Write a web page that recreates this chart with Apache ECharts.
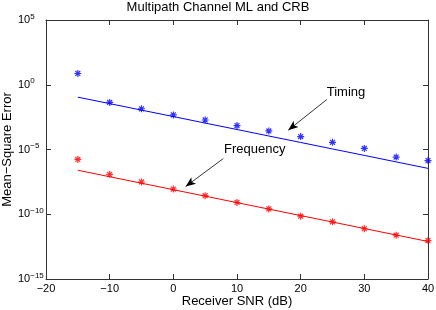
<!DOCTYPE html>
<html><head><meta charset="utf-8">
<script src="https://cdn.jsdelivr.net/npm/echarts@6/dist/echarts.min.js"></script>
<style>html,body{margin:0;padding:0;background:#fff}#c{width:436px;height:310px}</style>
</head><body><div id="c"></div>
<script>
var snr = [-15, -10, -5, 0, 5, 10, 15, 20, 25, 30, 35, 40];
var timingML = [7.4, 4.3e-2, 1.4e-2, 4.7e-3, 1.9e-3, 7.1e-4, 2.7e-4, 1.0e-4, 3.6e-5, 1.2e-5, 2.6e-6, 1.4e-6];
var timingCRB = [1.1e-1, 3.5e-2, 1.1e-2, 3.5e-3, 1.1e-3, 3.5e-4, 1.1e-4, 3.5e-5, 1.1e-5, 3.5e-6, 1.1e-6, 3.5e-7];
var freqML = [1.7e-6, 1.2e-7, 3.1e-8, 8.9e-9, 2.7e-9, 8.1e-10, 2.6e-10, 7.1e-11, 2.6e-11, 7.6e-12, 2.4e-12, 9.3e-13];
var freqCRB = [2.5e-7, 7.9e-8, 2.5e-8, 7.9e-9, 2.5e-9, 7.9e-10, 2.5e-10, 7.9e-11, 2.5e-11, 7.9e-12, 2.5e-12, 7.9e-13];
var xTicks = [-20, -10, 0, 10, 20, 30, 40];
var yTickExps = [-15, -10, -5, 0, 5];
var annTiming = {text: 'Timing', textAt: [24.1, 0.27], from: [24.1, 0.072], to: [18.05, 3.1e-4]};
var annFreq = {text: 'Frequency', textAt: [7.96, 1.05e-5], from: [7.85, 2e-6], to: [1.94, 1.4e-8]};

var FONT = '"Liberation Sans", Arial, Helvetica, sans-serif';
var AX = '#333';
function pairs(xs, ys){ return xs.map(function(x,i){ return [x, ys[i]]; }); }
var star = 'path://M0,5L10,5M5,0L5,10M1.5,1.5L8.5,8.5M8.5,1.5L1.5,8.5';

function xAx(pos, show){
  return {type:'value', position:pos, min:xTicks[0], max:xTicks[xTicks.length-1], interval:10,
    axisLine:{show:true, onZero:false, lineStyle:{color:AX, width:1}},
    axisTick:{show:true, inside:true, length:5, lineStyle:{color:AX}},
    splitLine:{show:false},
    axisLabel:{show:show, margin:4, fontFamily:FONT, fontSize:11, color:'#000',
      formatter:function(v){ return String(v).replace('-', '\u2212'); }},
    name: show ? 'Receiver SNR (dB)' : '', nameLocation:'middle', nameGap:16, nameMoveOverlap:false,
    nameTextStyle:{fontFamily:FONT, fontSize:13, color:'#000'}};
}
function yAx(pos, show){
  return {type:'log', logBase:10, position:pos, min:Math.pow(10,yTickExps[0]), max:Math.pow(10,yTickExps[yTickExps.length-1]), interval:5,
    axisLine:{show:true, onZero:false, lineStyle:{color:AX, width:1}},
    axisTick:{show:true, inside:true, length:5, lineStyle:{color:AX}},
    splitLine:{show:false}, minorTick:{show:false},
    axisLabel:{show:show, margin:28, align:'left', fontFamily:FONT, color:'#000',
      formatter:function(v){ var e = Math.round(Math.log10(v)); return '{b|10}{s|' + String(e).replace('-', '\u2212') + '}'; },
      rich:{b:{fontSize:11, fontFamily:FONT, color:'#000'}, s:{fontSize:8, fontFamily:FONT, color:'#000', padding:[0,0,7,0]}}},
    name: show ? 'Mean\u2212Square Error' : '', nameLocation:'middle', nameGap:32, nameMoveOverlap:false,
    nameTextStyle:{fontFamily:FONT, fontSize:13, color:'#000'}};
}
function ann(a){
  return {
    markLine:{silent:true, symbol:['none','arrow'], symbolSize:[6,10], label:{show:false},
      lineStyle:{color:'#000', width:0.8, type:'solid'},
      data:[[{coord:a.from},{coord:a.to}]]},
    markPoint:{silent:true, symbol:'circle', symbolSize:0,
      label:{show:true, position:'right', distance:0, formatter:a.text, fontFamily:FONT, fontSize:13, color:'#000'},
      data:[{coord:a.textAt}]}
  };
}
var chart = echarts.init(document.getElementById('c'), null, {renderer:'canvas'});
var tAnn = ann(annTiming), fAnn = ann(annFreq);
chart.setOption({
  animation:false,
  backgroundColor:'#fff',
  title:{text:'Multipath Channel ML and CRB', left:'center', top:0, padding:[1,0,0,0],
    textStyle:{fontFamily:FONT, fontSize:13, fontWeight:'normal', color:'#000'}},
  grid:{left:46, right:8, top:20, bottom:31, containLabel:false, outerBoundsMode:'none'},
  xAxis:[xAx('bottom', true), xAx('top', false)],
  yAxis:[yAx('left', true), yAx('right', false)],
  series:[
    {type:'line', name:'Timing CRB', data:pairs(snr, timingCRB), showSymbol:false, symbol:'none',
      lineStyle:{color:'#0000ff', width:1}, markLine:tAnn.markLine, markPoint:tAnn.markPoint},
    {type:'scatter', name:'Timing ML', data:pairs(snr, timingML), symbol:star, symbolSize:7,
      itemStyle:{color:'none', borderColor:'#0000ff', borderWidth:1.2}},
    {type:'line', name:'Frequency CRB', data:pairs(snr, freqCRB), showSymbol:false, symbol:'none',
      lineStyle:{color:'#ff0000', width:1}, markLine:fAnn.markLine, markPoint:fAnn.markPoint},
    {type:'scatter', name:'Frequency ML', data:pairs(snr, freqML), symbol:star, symbolSize:7,
      itemStyle:{color:'none', borderColor:'#ff0000', borderWidth:1.2}}
  ]
});
</script></body></html>
